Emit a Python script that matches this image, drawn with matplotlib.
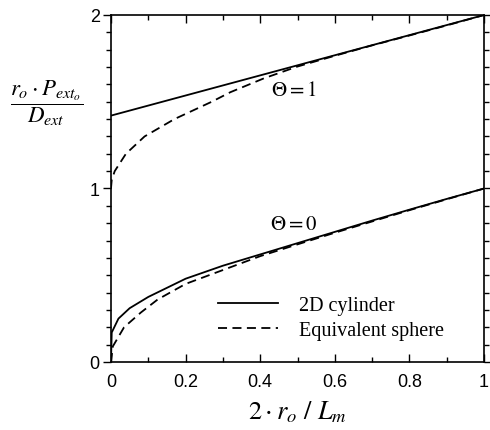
import numpy as np
import matplotlib
matplotlib.use("Agg")
from matplotlib import pyplot as plt
from matplotlib.ticker import MultipleLocator

plt.rcParams['mathtext.fontset'] = 'stix'
plt.rcParams['font.family'] = ['Liberation Sans', 'DejaVu Sans']

# Theta = 0
x_cyl0 = [0.0, 0.002, 0.02, 0.05, 0.1, 0.2, 0.3, 0.4, 0.5, 0.6, 0.7, 0.8, 0.9, 1.0]
y_cyl0 = [0.0, 0.17, 0.25, 0.31, 0.375, 0.48, 0.555, 0.62, 0.685, 0.75, 0.815, 0.878, 0.94, 1.0]
x_sph0 = [0.0, 0.005, 0.035, 0.08, 0.125, 0.2, 0.3, 0.4, 0.5, 0.6, 0.7, 0.8, 0.9, 1.0]
y_sph0 = [0.0, 0.09, 0.2, 0.285, 0.36, 0.45, 0.53, 0.61, 0.678, 0.745, 0.81, 0.875, 0.938, 1.0]

# Theta = 1
x_cyl1 = [0.0, 0.25, 0.5, 0.75, 1.0]
y_cyl1 = [1.42, 1.565, 1.71, 1.855, 2.0]
x_sph1 = [0.0, 0.002, 0.01, 0.04, 0.09, 0.17, 0.27, 0.32, 0.41, 0.5, 0.6, 0.7, 0.8, 0.9, 1.0]
y_sph1 = [1.0, 1.05, 1.1, 1.2, 1.3, 1.4, 1.5, 1.555, 1.635, 1.703, 1.765, 1.825, 1.882, 1.94, 2.0]

x_ticks = [0, 0.2, 0.4, 0.6, 0.8, 1.0]
x_ticklabels = ['0', '0.2', '0.4', '0.6', '0.8', '1']
y_ticks = [0, 1, 2]
y_ticklabels = ['0', '1', '2']

fig = plt.figure(figsize=(4.9, 4.31), dpi=100)
ax = fig.add_axes([0.2265, 0.1578, 0.7615, 0.8051])

lw = 1.3
ax.plot(x_cyl0, y_cyl0, color='black', lw=lw, label='2D cylinder')
ax.plot(x_sph0, y_sph0, color='black', lw=lw, dashes=(5, 3), label='Equivalent sphere')
ax.plot(x_cyl1, y_cyl1, color='black', lw=lw)
ax.plot(x_sph1, y_sph1, color='black', lw=lw, dashes=(5, 3))

ax.set_xlim(0, 1)
ax.set_ylim(0, 2)
ax.set_xticks(x_ticks, x_ticklabels)
ax.set_yticks(y_ticks, y_ticklabels)
ax.xaxis.set_minor_locator(MultipleLocator(0.1))
ax.yaxis.set_minor_locator(MultipleLocator(0.1))
ax.tick_params(axis='x', which='both', direction='in', top=True, bottom=True, labelsize=13, pad=8)
ax.tick_params(axis='y', which='both', direction='out', left=True, right=True, labelsize=13, pad=2)
ax.tick_params(which='major', length=6, width=1)
ax.tick_params(which='minor', length=3.5, width=1)
for s in ax.spines.values():
    s.set_linewidth(1.2)

ax.text(0.49, 1.57, r'$\Theta = 1$', fontsize=15, ha='center', va='center')
ax.text(0.49, 0.80, r'$\Theta = 0$', fontsize=15, ha='center', va='center')

leg = ax.legend(loc='lower right', bbox_to_anchor=(0.94, 0.012), frameon=False,
                prop={'family': 'Liberation Serif', 'size': 14.5},
                handlelength=3.0, handletextpad=1.0, labelspacing=0.3)

ax.set_xlabel(r'$2 \cdot r_o\ /\ L_m$', fontsize=19, labelpad=6)
fig.text(47 / 490, 1 - 103 / 431, r'$\dfrac{r_o \cdot P_{ext_o}}{D_{ext}}$',
         fontsize=16.5, ha='center', va='center')

fig.savefig('out.png', dpi=100)
